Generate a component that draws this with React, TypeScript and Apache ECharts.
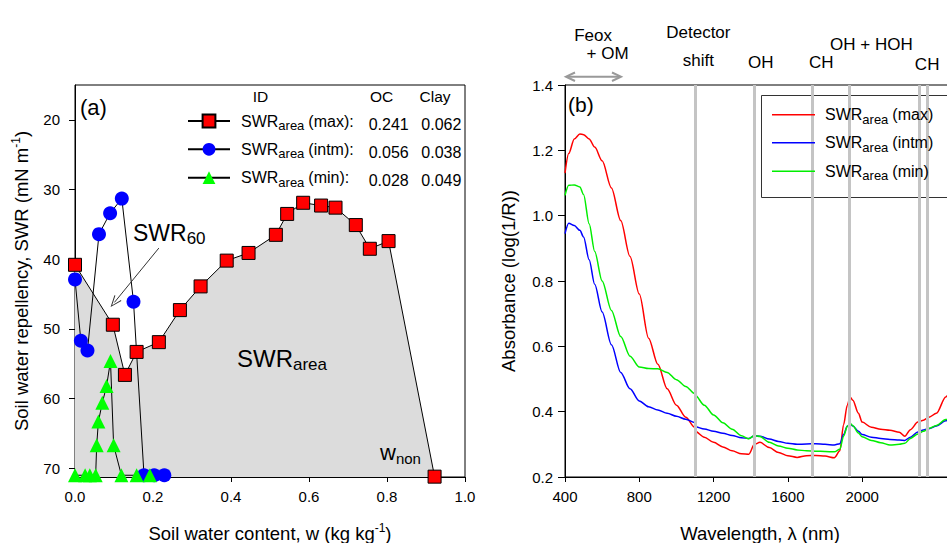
import React, { useEffect, useRef } from 'react';
import * as echarts from 'echarts';

const FONT = '"Liberation Sans", Arial, Helvetica, sans-serif';

// ---------- Panel (a): SWR vs soil water content ----------
const wMax = [0, 0.097, 0.128, 0.158, 0.215, 0.269, 0.322, 0.389, 0.445, 0.515, 0.544, 0.585, 0.631, 0.668, 0.72, 0.756, 0.804, 0.922];
const swrMax = [40.8, 49.4, 56.6, 53.3, 51.9, 47.3, 43.9, 40.2, 39.1, 36.5, 33.5, 31.9, 32.3, 32.6, 35.1, 38.5, 37.4, 71.2];
const wIntm = [0, 0.015, 0.032, 0.0615, 0.09, 0.12, 0.15, 0.177, 0.203, 0.229];
const swrIntm = [42.9, 51.7, 53.1, 36.4, 33.4, 31.3, 46.1, 71.0, 71.0, 71.0];
const wMin = [0, 0.026, 0.038, 0.053, 0.0556, 0.06, 0.07, 0.081, 0.091, 0.099, 0.119, 0.158, 0.192];
const swrMin = [71.0, 71.0, 71.0, 71.0, 66.7, 63.3, 60.6, 58.2, 54.6, 66.7, 71.0, 71.0, 71.0];
const seriesNamesA = ['SWRarea (max):', 'SWRarea (intm):', 'SWRarea (min):'];
const ocValues = ['0.241', '0.056', '0.028'];
const clayValues = ['0.062', '0.038', '0.049'];
const swrTicks = [20, 30, 40, 50, 60, 70];
const swr60Arrow = [[0.215, 38.4], [0.101, 46.2]];

// ---------- Panel (b): absorbance spectra ----------
const wavelengths = [400, 420, 450, 480, 500, 530, 560, 600, 650, 700, 750, 800, 850, 900, 950, 1000, 1050, 1099, 1101, 1150, 1200, 1250, 1300, 1350, 1390, 1420, 1450, 1500, 1550, 1600, 1650, 1700, 1750, 1800, 1850, 1880, 1900, 1920, 1935, 1950, 1980, 2000, 2050, 2100, 2150, 2200, 2230, 2260, 2300, 2330, 2360, 2400, 2450, 2500];
const absMax = [1.13, 1.19, 1.235, 1.25, 1.248, 1.235, 1.21, 1.168, 1.085, 0.985, 0.875, 0.76, 0.625, 0.545, 0.47, 0.42, 0.383, 0.352, 0.34, 0.322, 0.306, 0.292, 0.28, 0.271, 0.27, 0.3, 0.306, 0.29, 0.275, 0.265, 0.26, 0.265, 0.266, 0.264, 0.259, 0.28, 0.36, 0.42, 0.445, 0.435, 0.395, 0.368, 0.352, 0.346, 0.343, 0.337, 0.325, 0.345, 0.368, 0.374, 0.383, 0.395, 0.445, 0.52];
const absIntm = [0.945, 0.977, 0.97, 0.955, 0.935, 0.865, 0.79, 0.705, 0.605, 0.52, 0.47, 0.433, 0.415, 0.405, 0.395, 0.386, 0.377, 0.367, 0.354, 0.347, 0.34, 0.334, 0.327, 0.32, 0.318, 0.326, 0.325, 0.316, 0.309, 0.303, 0.3, 0.301, 0.302, 0.3, 0.298, 0.302, 0.33, 0.355, 0.362, 0.356, 0.34, 0.33, 0.322, 0.318, 0.315, 0.313, 0.312, 0.322, 0.338, 0.344, 0.348, 0.356, 0.372, 0.39];
const absMin = [1.062, 1.093, 1.094, 1.088, 1.065, 0.975, 0.89, 0.8, 0.71, 0.63, 0.57, 0.537, 0.532, 0.531, 0.52, 0.498, 0.477, 0.455, 0.45, 0.42, 0.39, 0.366, 0.346, 0.326, 0.317, 0.327, 0.324, 0.306, 0.295, 0.288, 0.283, 0.28, 0.279, 0.278, 0.277, 0.285, 0.325, 0.355, 0.364, 0.357, 0.335, 0.323, 0.312, 0.305, 0.298, 0.3, 0.303, 0.318, 0.332, 0.34, 0.349, 0.358, 0.376, 0.4];
const seriesNamesB = ['SWRarea (max)', 'SWRarea (intm)', 'SWRarea (min)'];
const bandCenters = [1100, 1420, 1730, 1930, 2310, 2350];
const bandNames = ['Feox', '+ OM', 'Detector', 'shift', 'OH', 'CH', 'OH + HOH', 'CH'];
const wavelengthTicks = [400, 800, 1200, 1600, 2000, 2400];

const pairs = (xs: number[], ys: number[]) => xs.map((x, i) => [x, ys[i]]);

function swrLabel(name: string): string {
  const rest = name.replace('SWRarea', '').trim();
  return `{p|SWR}{s|area}{m|${rest}}`;
}

function legendRich(padLeft: number) {
  const base = { fontSize: 16, lineHeight: 22, verticalAlign: 'middle', color: '#000', fontFamily: FONT };
  return {
    p: { ...base, padding: [0, 0, 0, padLeft] },
    m: { ...base, padding: [0, 0, 0, 4] },
    s: { fontSize: 13, lineHeight: 13, verticalAlign: 'bottom', color: '#000', fontFamily: FONT },
  };
}

const nameRich = {
  t: { fontSize: 18.5, lineHeight: 22, verticalAlign: 'middle', color: '#000', fontFamily: FONT },
  sup: { fontSize: 12, lineHeight: 12, verticalAlign: 'top', color: '#000', fontFamily: FONT },
};

function subText(x: number, y: number, main: string, sub: string, size: number, subSize: number, z = 20) {
  return {
    type: 'text', x, y, z, silent: true,
    style: {
      text: `{m|${main}}{s|${sub}}`,
      align: 'left', verticalAlign: 'middle',
      rich: {
        m: { fontSize: size, lineHeight: Math.round(size * 1.2), verticalAlign: 'middle', fill: '#000', fontFamily: FONT },
        s: { fontSize: subSize, lineHeight: subSize, verticalAlign: 'bottom', fill: '#000', fontFamily: FONT },
      },
    },
  };
}

function plainText(x: number, y: number, text: string, size: number, align = 'center', z = 20) {
  return {
    type: 'text', x, y, z, silent: true,
    style: { text, fontSize: size, fontFamily: FONT, fill: '#000', align, verticalAlign: 'middle' },
  };
}

export default function App() {
  const ref = useRef<HTMLDivElement>(null);

  useEffect(() => {
    const chart = echarts.init(ref.current!, null, { renderer: 'svg' });
    const axisLine = { show: true, onZero: false, lineStyle: { color: '#000', width: 1 } };
    const rowA = [124, 152.3, 180.7];
    const rowB = [117.7, 145.7, 174.3];
    // anchor of each band label, in (wavelength, absorbance) coordinates above the plot
    const bandLabelAnchors = [
      [551, 1.551], [629, 1.497], [1118, 1.561], [1118, 1.474], [1454, 1.47], [1780, 1.469], [2050, 1.525], [2350, 1.463],
    ];

    const graphicEls: any[] = [
      plainText(80, 107.5, '(a)', 22, 'left'),
      plainText(568, 104.5, '(b)', 21, 'left'),
      subText(133, 233, 'SWR', '60', 23, 17),
      subText(237, 358, 'SWR', 'area', 24, 17),
      subText(380, 452.5, 'w', 'non', 22, 15),
      plainText(260.5, 96.7, 'ID', 15.5),
      plainText(381.5, 96.7, 'OC', 15.5),
      plainText(435, 96.7, 'Clay', 15.5),
      ...ocValues.map((v, i) => plainText(388.7, rowA[i], v, 16)),
      ...clayValues.map((v, i) => plainText(441.3, rowA[i], v, 16)),
      {
        type: 'line', z: 20, silent: true,
        shape: { x1: 567, y1: 76.7, x2: 620, y2: 76.7 },
        style: { stroke: '#999', lineWidth: 2 },
      },
      {
        type: 'polyline', z: 20, silent: true,
        shape: { points: [[575, 72.5], [566, 76.7], [575, 81]] },
        style: { stroke: '#999', lineWidth: 2, fill: 'none' },
      },
      {
        type: 'polyline', z: 20, silent: true,
        shape: { points: [[612, 72.5], [621, 76.7], [612, 81]] },
        style: { stroke: '#999', lineWidth: 2, fill: 'none' },
      },
      {
        type: 'rect', z: 5, silent: true,
        shape: { x: 761.5, y: 95.5, width: 220, height: 102 },
        style: { fill: '#fff', stroke: '#333', lineWidth: 1 },
      },
    ];

    const legendsA = seriesNamesA.map((n, i) => ({
      show: true, data: [n], left: 187, top: rowA[i] - 11, padding: 0, orient: 'horizontal',
      itemWidth: 42, itemHeight: 16, selectedMode: false, z: 10,
      formatter: swrLabel,
      textStyle: { fontSize: 16, color: '#000', fontFamily: FONT, rich: legendRich(6) },
    }));
    const legendsB = seriesNamesB.map((n, i) => ({
      show: true, data: [n], left: 772, top: rowB[i] - 11, padding: 0, orient: 'horizontal',
      itemWidth: 43, itemHeight: 1.5, icon: 'rect', selectedMode: false, z: 10,
      formatter: swrLabel,
      textStyle: { fontSize: 16, color: '#000', fontFamily: FONT, rich: legendRich(5) },
    }));

    const specColors = ['#ff0000', '#0000ff', '#00ee00'];
    const specData = [absMax, absIntm, absMin];

    const option: any = {
      animation: false,
      backgroundColor: '#fff',
      tooltip: { show: false },
      grid: [
        { left: 75, top: 85, width: 390, height: 392, show: true, borderColor: '#000', borderWidth: 1, backgroundColor: 'transparent', containLabel: false, outerBoundsMode: 'none' },
        { left: 565, top: 85, width: 390, height: 392, show: true, borderColor: '#000', borderWidth: 1, backgroundColor: 'transparent', containLabel: false, outerBoundsMode: 'none' },
      ],
      xAxis: [
        {
          type: 'value', gridIndex: 0, min: 0, max: 1, interval: 0.2,
          axisLine, axisTick: { show: true, inside: false, length: 5, lineStyle: { color: '#000' } },
          axisLabel: { formatter: (v: number) => v.toFixed(1), fontSize: 15, color: '#000', fontFamily: FONT, margin: 12 },
          splitLine: { show: false },
          name: '{t|Soil water content, w (kg kg}{sup|-1}{t|)}', nameLocation: 'middle', nameGap: 45,
          nameTextStyle: { fontSize: 18.5, color: '#000', fontFamily: FONT, rich: nameRich },
        },
        {
          type: 'value', gridIndex: 1, min: 400, max: 2500, interval: 400,
          axisLine, axisTick: { show: true, inside: false, length: 5, lineStyle: { color: '#000' }, customValues: wavelengthTicks },
          axisLabel: { formatter: (v: number) => String(v), fontSize: 15, color: '#000', fontFamily: FONT, margin: 12, customValues: wavelengthTicks, showMaxLabel: false },
          splitLine: { show: false },
          name: 'Wavelength, λ (nm)', nameLocation: 'middle', nameGap: 45,
          nameTextStyle: { fontSize: 18.5, color: '#000', fontFamily: FONT, lineHeight: 22 },
        },
      ],
      yAxis: [
        {
          type: 'value', gridIndex: 0, inverse: true, min: 15, max: 71.25,
          axisLine, axisTick: { show: true, inside: false, length: 6, lineStyle: { color: '#000' }, customValues: swrTicks },
          axisLabel: { fontSize: 15, color: '#000', fontFamily: FONT, margin: 15, customValues: swrTicks },
          splitLine: { show: false },
          name: '{t|Soil water repellency, SWR (mN m}{sup|-1}{t|)}', nameLocation: 'middle', nameGap: 43, nameRotate: 90,
          nameTextStyle: { fontSize: 18.5, color: '#000', fontFamily: FONT, rich: nameRich },
        },
        {
          type: 'value', gridIndex: 1, min: 0.2, max: 1.4, interval: 0.2,
          axisLine, axisTick: { show: true, inside: false, length: 7, lineStyle: { color: '#000' } },
          axisLabel: { formatter: (v: number) => v.toFixed(1), fontSize: 15, color: '#000', fontFamily: FONT, margin: 12 },
          splitLine: { show: false },
          name: 'Absorbance (log(1/R))', nameLocation: 'middle', nameGap: 46, nameRotate: 90,
          nameTextStyle: { fontSize: 18.5, color: '#000', fontFamily: FONT, lineHeight: 22 },
        },
      ],
      legend: [...legendsA, ...legendsB],
      graphic: { elements: graphicEls },
      series: [
        {
          name: 'areaFill', type: 'line', xAxisIndex: 0, yAxisIndex: 0, z: 1, silent: true,
          data: pairs(wMax, swrMax), symbol: 'none', lineStyle: { width: 0, opacity: 0 },
          areaStyle: { color: '#dcdcdc', opacity: 1, origin: 'end' },
        },
        {
          name: seriesNamesA[1], type: 'line', xAxisIndex: 0, yAxisIndex: 0, z: 3, clip: false,
          data: pairs(wIntm, swrIntm), symbol: 'circle', symbolSize: 14,
          itemStyle: { color: '#0000ff' }, lineStyle: { color: '#000', width: 1 },
        },
        {
          name: seriesNamesA[2], type: 'line', xAxisIndex: 0, yAxisIndex: 0, z: 3, clip: false,
          data: pairs(wMin, swrMin), symbol: 'triangle', symbolSize: 14,
          itemStyle: { color: '#00ff00' }, lineStyle: { color: '#000', width: 1 },
        },
        {
          name: seriesNamesA[0], type: 'line', xAxisIndex: 0, yAxisIndex: 0, z: 4, clip: false,
          data: pairs(wMax, swrMax), symbol: 'rect', symbolSize: 13,
          itemStyle: { color: '#ff0000', borderColor: '#000', borderWidth: 1 }, lineStyle: { color: '#000', width: 1 },
          markLine: {
            silent: true, animation: false,
            symbol: ['none', 'path://M5,0 L10,12 L9,12.5 L5,2.6 L1,12.5 L0,12 Z'], symbolSize: [9, 12],
            lineStyle: { color: '#333', width: 1, type: 'solid' },
            label: { show: false },
            data: [[{ coord: swr60Arrow[0] }, { coord: swr60Arrow[1] }]],
          },
        },
        {
          name: 'bands', type: 'line', xAxisIndex: 1, yAxisIndex: 1, z: 1, silent: true,
          data: [[400, 0.2]], symbol: 'none', lineStyle: { opacity: 0 },
          markLine: {
            silent: true, animation: false, symbol: ['none', 'none'],
            label: { show: false },
            lineStyle: { color: '#c4c4c4', width: 3, type: 'solid' },
            data: bandCenters.map((v) => ({ xAxis: v })),
          },
        },
        {
          name: 'bandLabels', type: 'custom', xAxisIndex: 1, yAxisIndex: 1, z: 20, silent: true, clip: false,
          data: bandNames.map((t, i) => ({ name: t, value: bandLabelAnchors[i] })),
          renderItem: (params: any, api: any) => {
            const p = api.coord([api.value(0), api.value(1)]);
            return {
              type: 'text',
              x: p[0], y: p[1],
              style: {
                text: bandNames[params.dataIndex], fontSize: 17, fontFamily: FONT, fill: '#000',
                align: 'center', verticalAlign: 'middle',
              },
            };
          },
        },
        ...seriesNamesB.map((n, i) => ({
          name: n, type: 'line', xAxisIndex: 1, yAxisIndex: 1, z: 3,
          data: pairs(wavelengths, specData[i]), symbol: 'none', showSymbol: false,
          smooth: 0.3, smoothMonotone: 'x',
          color: specColors[i],
          itemStyle: { color: specColors[i] },
          lineStyle: { color: specColors[i], width: 1.5 },
        })),
      ],
    };

    chart.setOption(option);
    return () => chart.dispose();
  }, []);

  return (
    <div
      ref={ref}
      style={{ position: 'absolute', left: 0, top: 0, width: 947, height: 543, background: '#fff' }}
    />
  );
}
